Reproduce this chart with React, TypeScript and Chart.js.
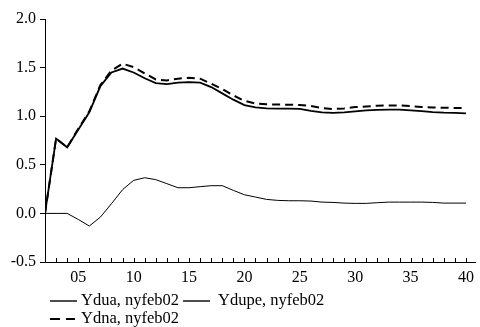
import React, { useEffect, useRef } from "react";
import { Chart, registerables } from "chart.js";

Chart.register(...registerables);

const periods = [2, 3, 4, 5, 6, 7, 8, 9, 10, 11, 12, 13, 14, 15, 16, 17, 18, 19, 20, 21, 22, 23, 24, 25, 26, 27, 28, 29, 30, 31, 32, 33, 34, 35, 36, 37, 38, 39, 40];

const ydua = [0, 0.77, 0.68, 0.86, 1.04, 1.31, 1.45, 1.49, 1.45, 1.39, 1.34, 1.33, 1.345, 1.35, 1.345, 1.30, 1.235, 1.17, 1.115, 1.09, 1.08, 1.077, 1.077, 1.075, 1.055, 1.04, 1.035, 1.039, 1.049, 1.06, 1.065, 1.067, 1.067, 1.06, 1.053, 1.042, 1.036, 1.035, 1.03];

const ydupe = [0, 0, 0, -0.062, -0.13, -0.038, 0.1, 0.244, 0.34, 0.367, 0.347, 0.306, 0.264, 0.264, 0.275, 0.285, 0.285, 0.237, 0.192, 0.168, 0.144, 0.134, 0.13, 0.13, 0.127, 0.116, 0.113, 0.106, 0.103, 0.103, 0.11, 0.116, 0.116, 0.116, 0.116, 0.113, 0.106, 0.106, 0.106];

const ydna = [0, 0.77, 0.68, 0.87, 1.05, 1.32, 1.47, 1.54, 1.505, 1.44, 1.378, 1.368, 1.386, 1.396, 1.386, 1.334, 1.28, 1.214, 1.158, 1.13, 1.122, 1.12, 1.118, 1.115, 1.105, 1.085, 1.073, 1.08, 1.094, 1.10, 1.108, 1.111, 1.111, 1.104, 1.094, 1.09, 1.087, 1.085, 1.083];

const xTickValues = [5, 10, 15, 20, 25, 30, 35, 40];
const xTickLabels = ["05", "10", "15", "20", "25", "30", "35", "40"];
const seriesNames = ["Ydua, nyfeb02", "Ydupe, nyfeb02", "Ydna, nyfeb02"];

const FONT = "'Liberation Serif', 'Times New Roman', serif";

const innerTicks = {
  id: "innerTicks",
  afterDraw(chart: any) {
    const xs = chart.scales.x;
    const ctx = chart.ctx;
    const bottom = chart.chartArea.bottom;
    ctx.save();
    ctx.strokeStyle = "#000";
    ctx.lineWidth = 1;
    ctx.beginPath();
    for (const p of periods) {
      const px = Math.round(xs.getPixelForValue(p)) + 0.5;
      ctx.moveTo(px, bottom);
      ctx.lineTo(px, bottom - 4);
    }
    ctx.stroke();
    ctx.restore();
  },
};

export default function App() {
  const ref = useRef<HTMLCanvasElement | null>(null);
  useEffect(() => {
    if (!ref.current) return;
    const mk = (arr: number[]) => periods.map((p, i) => ({ x: p, y: arr[i] }));
    const chart = new Chart(ref.current, {
      type: "line",
      data: {
        datasets: [
          { label: seriesNames[0], data: mk(ydua), borderColor: "#000", borderWidth: 1.8, pointRadius: 0, fill: false, tension: 0 },
          { label: seriesNames[1], data: mk(ydupe), borderColor: "#000", borderWidth: 1, pointRadius: 0, fill: false, tension: 0 },
          { label: seriesNames[2], data: mk(ydna), borderColor: "#000", borderWidth: 2, borderDash: [8, 5], pointRadius: 0, fill: false, tension: 0 },
        ],
      },
      options: {
        responsive: false,
        animation: false,
        devicePixelRatio: 1,
        layout: { padding: { top: 19, right: 0, bottom: 0, left: 0 } },
        plugins: { legend: { display: false }, tooltip: { enabled: false } },
        scales: {
          x: {
            type: "linear",
            min: 2,
            max: 40.9,
            afterBuildTicks: (s: any) => {
              s.ticks = xTickValues.map((v) => ({ value: v }));
            },
            afterFit: (s: any) => {
              s.height = 65;
            },
            grid: { display: true, drawOnChartArea: false, drawTicks: false },
            border: { display: true, color: "#000", width: 1 },
            ticks: {
              color: "#000",
              font: { family: FONT, size: 16 },
              padding: 6,
              maxRotation: 0,
              autoSkip: false,
              callback: (v: any) => {
                const i = xTickValues.indexOf(Number(v));
                return i >= 0 ? xTickLabels[i] : "";
              },
            },
          },
          y: {
            min: -0.5,
            max: 2.0,
            afterFit: (s: any) => {
              s.width = 45;
            },
            grid: { display: true, drawOnChartArea: false, drawTicks: true, tickLength: 5, color: "#000" },
            border: { display: true, color: "#000", width: 1 },
            ticks: {
              stepSize: 0.5,
              color: "#000",
              font: { family: FONT, size: 16 },
              padding: 4,
              callback: (v: any) => Number(v).toFixed(1),
            },
          },
        },
      },
      plugins: [innerTicks],
    });
    return () => chart.destroy();
  }, []);

  const textStyle: React.CSSProperties = {
    position: "absolute",
    fontFamily: FONT,
    fontSize: 16.5,
    color: "#000",
    lineHeight: "18px",
    whiteSpace: "nowrap",
  };
  const Sample = ({ left, top, width, dash }: { left: number; top: number; width: number; dash?: string }) => (
    <svg style={{ position: "absolute", left, top: top - 2, width, height: 4 }} width={width} height={4}>
      <line x1={0} y1={2} x2={width} y2={2} stroke="#000" strokeWidth={dash ? 2 : 1.4} strokeDasharray={dash} />
    </svg>
  );

  return (
    <div style={{ position: "fixed", left: 0, top: 0, width: 480, height: 327, background: "#fff" }}>
      <canvas ref={ref} width={480} height={327} style={{ position: "absolute", left: 0, top: 0, width: 480, height: 327 }} />
      <Sample left={50} top={301} width={27} />
      <div style={{ ...textStyle, left: 81, top: 291 }}>{seriesNames[0]}</div>
      <Sample left={183} top={301} width={27} />
      <div style={{ ...textStyle, left: 218, top: 291 }}>{seriesNames[1]}</div>
      <Sample left={50} top={319} width={25} dash="10 6" />
      <div style={{ ...textStyle, left: 81, top: 309 }}>{seriesNames[2]}</div>
    </div>
  );
}
